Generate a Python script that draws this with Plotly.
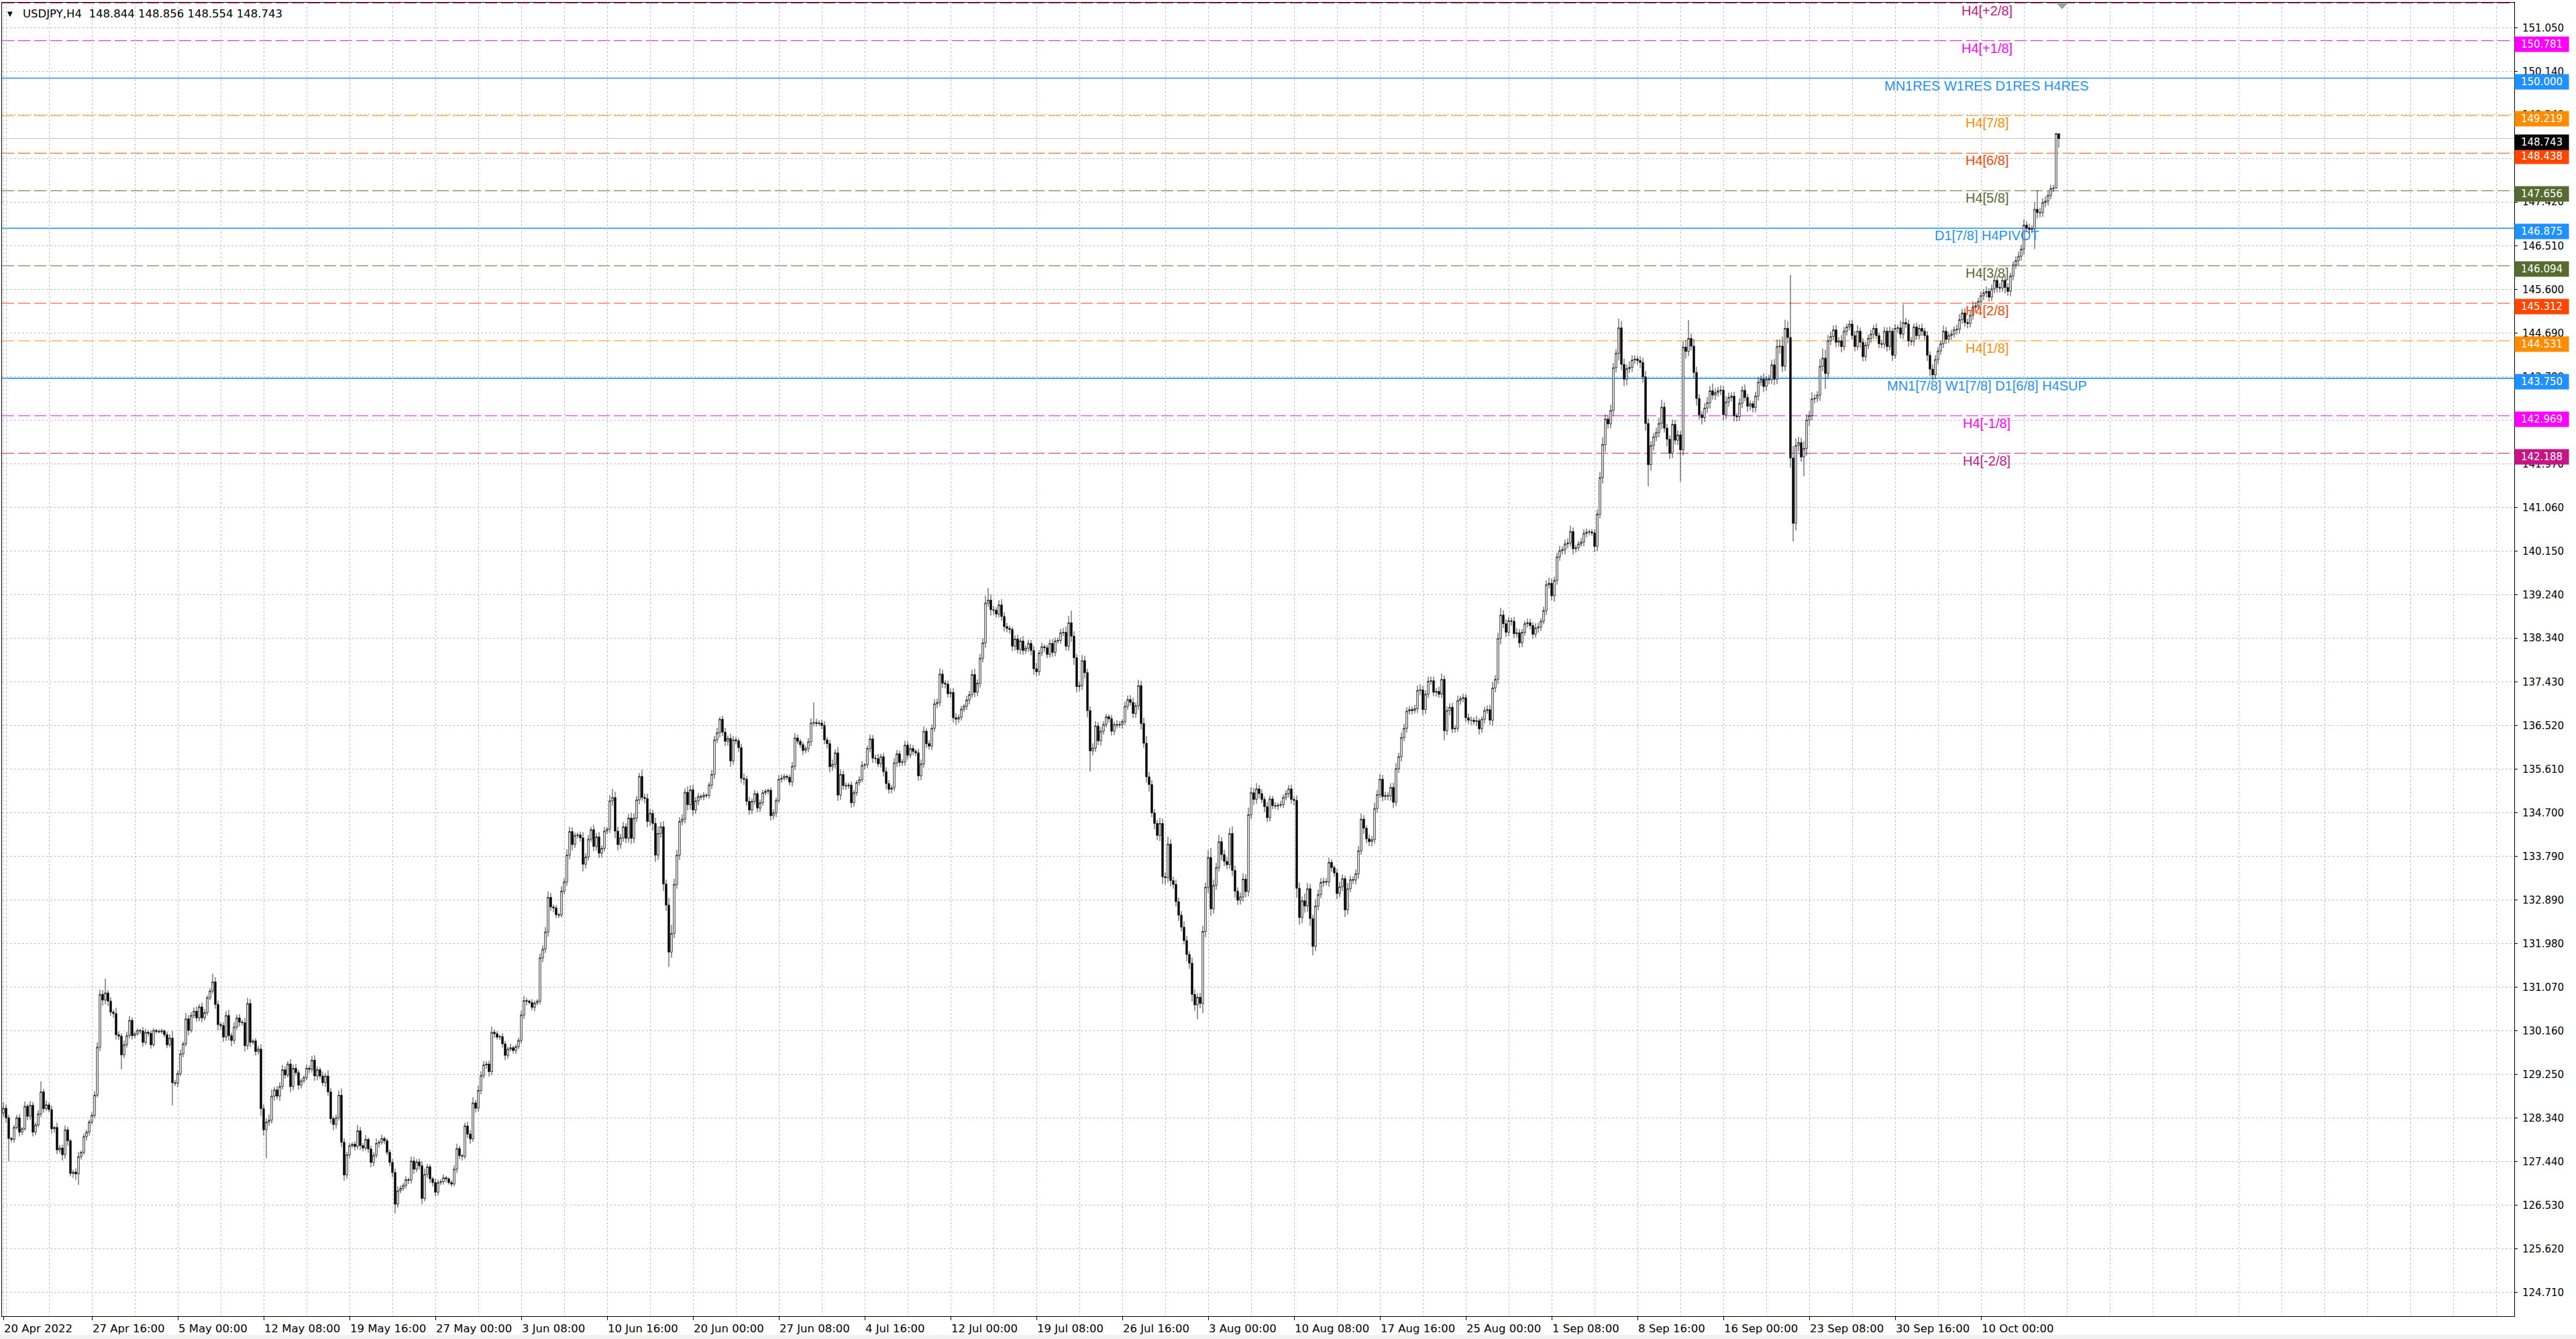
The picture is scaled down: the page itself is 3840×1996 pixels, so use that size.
import plotly.graph_objects as go

# ---------------- data (H4 bars, 20 Apr 2022 04:00 .. 14 Oct 2022 20:00) ----------------
first_open = 128.45

close = [
    128.55, 128.35, 127.92, 127.90, 128.15,          # Apr 20
    128.35, 128.05, 128.12, 128.59, 128.38, 128.61,  # Apr 21
    128.05, 128.20, 128.43, 128.89, 128.54, 128.62,  # Apr 22
    128.52, 128.12, 128.15, 127.68, 127.72, 127.58,  # Apr 25
    128.10, 127.87, 127.19, 127.22, 127.18, 127.54,  # Apr 26
    127.63, 127.96, 128.05, 128.26, 128.40, 128.82,  # Apr 27
    129.82, 130.92, 130.80, 130.95, 130.78, 130.55,  # Apr 28
    130.52, 130.08, 130.05, 129.66, 129.87, 130.06,  # Apr 29
    130.38, 130.06, 130.10, 130.17, 130.16, 129.92,  # May 2
    130.13, 130.11, 129.87, 130.17, 130.15, 130.14,  # May 3
    130.16, 130.08, 129.87, 130.01, 129.08, 129.07,  # May 4
    129.27, 129.68, 129.89, 130.41, 130.17, 130.48,  # May 5
    130.57, 130.43, 130.66, 130.43, 130.54, 130.85,  # May 6
    130.99, 131.18, 130.71, 130.29, 130.27, 130.03,  # May 9
    130.48, 130.06, 129.96, 130.24, 130.43, 130.34,  # May 10
    130.33, 129.85, 130.73, 129.92, 129.95, 129.73,  # May 11
    129.78, 128.54, 128.10, 128.26, 128.30, 128.80,  # May 12
    128.93, 128.80, 129.00, 129.35, 129.24, 129.47,  # May 13
    129.00, 129.38, 129.29, 129.03, 129.12, 129.19,  # May 16
    129.38, 129.36, 129.55, 129.22, 129.35, 129.22,  # May 17
    129.08, 129.22, 128.89, 128.33, 128.21, 128.35,  # May 18
    128.82, 127.84, 127.16, 127.58, 127.77, 127.80,  # May 19
    127.75, 128.08, 127.77, 127.72, 127.90, 127.70,  # May 20
    127.42, 127.57, 127.82, 127.84, 127.92, 127.87,  # May 23
    127.63, 127.42, 127.21, 126.55, 126.83, 126.88,  # May 24
    126.94, 127.06, 127.05, 127.45, 127.28, 127.43,  # May 25
    127.35, 126.67, 127.17, 127.33, 127.08, 127.00,  # May 26
    126.80, 127.00, 127.02, 127.10, 127.08, 127.00,  # May 27
    126.97, 127.28, 127.71, 127.56, 127.55, 128.18,  # May 30
    128.01, 127.91, 128.66, 128.55, 128.92, 129.23,  # May 31
    129.45, 129.47, 129.31, 130.13, 130.10, 130.03,  # Jun 1
    130.04, 129.89, 129.65, 129.78, 129.81, 129.75,  # Jun 2
    129.83, 129.96, 130.49, 130.79, 130.78, 130.75,  # Jun 3
    130.65, 130.74, 130.78, 131.68, 131.86, 132.22,  # Jun 6
    132.94, 132.74, 132.72, 132.58, 132.57, 133.07,  # Jun 7
    133.26, 133.82, 134.31, 134.04, 134.23, 134.24,  # Jun 8
    134.18, 133.63, 133.78, 134.15, 134.35, 134.00,  # Jun 9
    134.20, 133.86, 133.96, 134.32, 134.36, 134.95,  # Jun 10
    135.02, 134.32, 134.04, 134.18, 134.41, 134.17,  # Jun 13
    134.59, 134.17, 134.59, 134.97, 135.46, 135.02,  # Jun 14
    135.00, 134.52, 134.69, 134.48, 133.82, 134.27,  # Jun 15
    134.41, 133.22, 132.78, 131.80, 132.19, 133.21,  # Jun 16
    133.82, 134.52, 134.57, 135.13, 134.87, 135.18,  # Jun 17
    134.76, 134.95, 135.04, 135.03, 135.07, 135.06,  # Jun 20
    135.28, 135.50, 136.22, 136.37, 136.65, 136.38,  # Jun 21
    136.19, 136.25, 135.78, 136.22, 136.20, 136.06,  # Jun 22
    135.42, 135.40, 134.94, 134.76, 134.94, 135.10,  # Jun 23
    134.80, 134.91, 135.12, 135.15, 135.17, 134.64,  # Jun 24
    134.70, 134.96, 135.40, 135.42, 135.46, 135.44,  # Jun 27
    135.34, 135.67, 136.26, 136.19, 136.12, 136.00,  # Jun 28
    136.04, 136.18, 136.57, 136.58, 136.56, 136.57,  # Jun 29
    136.52, 136.22, 136.14, 135.66, 135.71, 135.95,  # Jun 30
    135.07, 135.50, 135.27, 135.26, 135.28, 134.91,  # Jul 1
    135.12, 135.33, 135.39, 135.69, 135.70, 136.04,  # Jul 4
    136.24, 135.84, 135.83, 135.72, 135.87, 135.56,  # Jul 5
    135.31, 135.19, 135.22, 135.74, 135.93, 135.75,  # Jul 6
    135.76, 136.11, 135.90, 136.04, 135.98, 135.95,  # Jul 7
    135.47, 135.72, 136.40, 136.14, 136.09, 136.46,  # Jul 8
    136.97, 137.00, 137.59, 137.40, 137.38, 137.18,  # Jul 11
    137.21, 136.68, 136.65, 136.69, 136.86, 136.92,  # Jul 12
    137.05, 137.16, 137.58, 137.21, 137.40, 137.92,  # Jul 13
    138.24, 139.07, 139.13, 138.93, 138.92, 138.84,  # Jul 14
    139.03, 138.79, 138.58, 138.54, 138.52, 138.17,  # Jul 15
    138.32, 138.10, 138.28, 138.08, 138.13, 138.23,  # Jul 18
    138.08, 137.70, 137.64, 138.03, 138.16, 138.14,  # Jul 19
    138.00, 138.23, 138.04, 138.28, 138.29, 138.45,  # Jul 20
    138.46, 138.17, 138.66, 138.38, 137.93, 137.33,  # Jul 21
    137.35, 137.87, 137.62, 136.83, 135.99, 136.05,  # Jul 22
    136.51, 136.20, 136.40, 136.54, 136.70, 136.66,  # Jul 25
    136.40, 136.54, 136.53, 136.54, 136.60, 136.92,  # Jul 26
    137.06, 137.00, 136.77, 136.93, 137.35, 136.56,  # Jul 27
    136.15, 135.45, 135.29, 134.70, 134.48, 134.23,  # Jul 28
    134.48, 133.37, 133.35, 134.05, 133.29, 133.21,  # Jul 29
    132.85, 132.57, 132.32, 132.04, 131.75, 131.57,  # Aug 1
    130.92, 130.70, 130.86, 130.73, 132.23, 133.15,  # Aug 2
    133.77, 132.70, 133.19, 133.56, 134.10, 133.83,  # Aug 3
    133.69, 133.62, 134.27, 133.50, 133.07, 132.88,  # Aug 4
    132.95, 133.32, 133.06, 134.66, 135.12, 134.98,  # Aug 5
    135.20, 135.10, 134.98, 134.83, 134.60, 134.99,  # Aug 8
    134.85, 134.84, 134.86, 134.87, 135.02, 135.10,  # Aug 9
    135.20, 134.98, 134.96, 133.13, 132.52, 132.87,  # Aug 10
    132.76, 133.12, 132.50, 131.92, 132.76, 133.00,  # Aug 11
    133.25, 133.27, 133.26, 133.67, 133.56, 133.45,  # Aug 12
    133.02, 133.16, 133.33, 132.68, 133.12, 133.31,  # Aug 15
    133.30, 133.43, 133.91, 134.57, 134.38, 134.16,  # Aug 16
    134.10, 134.14, 134.79, 135.08, 135.40, 135.04,  # Aug 17
    135.06, 135.05, 135.23, 134.92, 135.62, 135.87,  # Aug 18
    136.27, 136.46, 136.82, 136.85, 136.83, 136.87,  # Aug 19
    137.25, 137.26, 136.85, 137.17, 137.44, 137.45,  # Aug 22
    137.21, 137.23, 137.17, 137.48, 136.41, 136.83,  # Aug 23
    136.90, 136.45, 136.46, 137.04, 137.08, 137.10,  # Aug 24
    136.68, 136.63, 136.63, 136.60, 136.62, 136.45,  # Aug 25
    136.65, 136.83, 136.85, 136.63, 137.30, 137.48,  # Aug 26
    138.33, 138.82, 138.64, 138.46, 138.70, 138.69,  # Aug 29
    138.43, 138.45, 138.24, 138.46, 138.64, 138.66,  # Aug 30
    138.60, 138.42, 138.55, 138.57, 138.69, 138.91,  # Aug 31
    139.45, 139.48, 139.22, 139.54, 140.03, 140.16,  # Sep 1
    140.18, 140.30, 140.32, 140.56, 140.20, 140.22,  # Sep 2
    140.30, 140.34, 140.52, 140.55, 140.55, 140.53,  # Sep 5
    140.25, 140.92, 141.68, 142.37, 142.90, 142.80,  # Sep 6
    143.08, 143.97, 144.27, 144.80, 144.04, 143.73,  # Sep 7
    143.95, 143.98, 144.13, 144.15, 144.12, 144.08,  # Sep 8
    143.78, 142.81, 141.95, 142.35, 142.53, 142.62,  # Sep 9
    142.81, 143.15, 142.71, 142.48, 142.19, 142.79,  # Sep 12
    142.46, 142.57, 142.26, 144.40, 144.31, 144.58,  # Sep 13
    144.42, 143.87, 143.33, 142.99, 142.93, 143.13,  # Sep 14
    143.24, 143.49, 143.40, 143.45, 143.49, 143.50,  # Sep 15
    142.99, 143.26, 143.35, 143.38, 142.97, 142.95,  # Sep 16
    143.23, 143.50, 143.35, 143.17, 143.22, 143.14,  # Sep 19
    143.38, 143.67, 143.73, 143.58, 143.73, 143.72,  # Sep 20
    144.03, 143.73, 144.41, 144.42, 144.00, 144.79,  # Sep 21
    144.60, 142.09, 140.73, 142.35, 142.41, 142.11,  # Sep 22
    142.29, 142.88, 142.97, 143.32, 143.33, 143.40,  # Sep 23
    144.00, 144.17, 143.85, 144.53, 144.62, 144.76,  # Sep 26
    144.50, 144.53, 144.41, 144.73, 144.82, 144.88,  # Sep 27
    144.64, 144.41, 144.73, 144.50, 144.20, 144.44,  # Sep 28
    144.58, 144.67, 144.79, 144.64, 144.47, 144.46,  # Sep 29
    144.73, 144.41, 144.73, 144.23, 144.79, 144.80,  # Sep 30
    144.67, 144.91, 144.88, 144.53, 144.52, 144.82,  # Oct 3
    144.64, 144.79, 144.73, 144.64, 144.23, 143.94,  # Oct 4
    143.82, 144.14, 144.32, 144.47, 144.73, 144.56,  # Oct 5
    144.64, 144.67, 144.76, 144.77, 144.97, 145.11,  # Oct 6
    144.91, 144.89, 145.06, 145.23, 145.26, 145.35,  # Oct 7
    145.47, 145.53, 145.56, 145.44, 145.61, 145.79,  # Oct 10
    145.64, 145.63, 145.79, 145.64, 145.56, 145.88,  # Oct 11
    146.11, 146.20, 146.29, 146.44, 146.94, 146.88,  # Oct 12
    146.85, 146.86, 147.27, 147.20, 147.20, 147.41,  # Oct 13
    147.44, 147.56, 147.70, 147.71, 148.844, 148.743,  # Oct 14
]

# upper / lower wick lengths in pips (0.01 JPY)
upper_wick = [
    12, 8, 6, 3, 5,
    6, 8, 4, 10, 5, 9,
    7, 5, 8, 22, 6, 9,
    5, 8, 3, 10, 6, 7,
    9, 6, 4, 5, 8, 10,
    4, 6, 5, 5, 7, 8,
    10, 10, 9, 30, 6, 8,
    5, 12, 7, 6, 9, 8,
    9, 6, 5, 4, 3, 8,
    7, 4, 6, 5, 3, 4,
    5, 3, 6, 8, 15, 6,
    6, 9, 5, 12, 8, 7,
    8, 10, 6, 9, 7, 5,
    6, 17, 10, 8, 5, 7,
    9, 12, 6, 10, 7, 8,
    5, 10, 12, 9, 4, 6,
    7, 10, 9, 8, 12, 14,
    6, 8, 9, 10, 7, 6,
    10, 8, 9, 6, 5, 4,
    8, 6, 9, 10, 7, 5,
    9, 6, 12, 8, 5, 7,
    10, 14, 8, 6, 5, 4,
    6, 12, 8, 5, 9, 4,
    7, 6, 10, 5, 8, 4,
    5, 6, 7, 8, 9, 6,
    5, 7, 4, 9, 8, 6,
    7, 10, 12, 6, 5, 4,
    8, 6, 5, 7, 4, 3,
    5, 8, 10, 6, 4, 7,
    9, 8, 12, 6, 10, 9,
    8, 6, 7, 12, 6, 5,
    4, 7, 6, 5, 8, 4,
    5, 6, 9, 10, 6, 3,
    7, 5, 4, 9, 8, 10,
    12, 9, 5, 6, 4, 10,
    8, 12, 10, 9, 6, 5,
    7, 12, 8, 9, 6, 10,
    8, 10, 6, 9, 5, 12,
    18, 12, 9, 8, 10, 7,
    9, 11, 10, 8, 7, 14,
    8, 10, 9, 7, 12, 15,
    10, 12, 9, 15, 18, 12,
    11, 9, 10, 8, 12, 9,
    10, 8, 7, 5, 6, 4,
    6, 9, 8, 10, 5, 7,
    9, 6, 10, 8, 6, 5,
    8, 10, 7, 9, 6, 8,
    5, 7, 6, 5, 4, 6,
    7, 6, 9, 8, 5, 4,
    6, 9, 10, 7, 5, 6,
    5, 8, 10, 42, 8, 6,
    7, 9, 6, 8, 10, 7,
    12, 10, 8, 6, 5, 7,
    6, 5, 7, 9, 4, 6,
    9, 8, 7, 10, 6, 8,
    9, 7, 6, 10, 8, 7,
    6, 9, 8, 10, 7, 5,
    8, 9, 10, 6, 7, 8,
    10, 8, 12, 9, 6, 7,
    8, 9, 10, 6, 7, 5,
    9, 8, 10, 12, 8, 9,
    10, 15, 25, 12, 8, 6,
    10, 12, 9, 8, 6, 5,
    8, 9, 7, 10, 6, 8,
    7, 10, 12, 6, 8, 5,
    6, 8, 9, 7, 6, 8,
    9, 12, 14, 25, 10, 8,
    9, 12, 10, 8, 9, 10,
    10, 8, 9, 7, 6, 5,
    8, 6, 9, 7, 5, 10,
    8, 9, 10, 7, 12, 10,
    12, 15, 10, 9, 8, 7,
    12, 10, 9, 15, 10, 8,
    10, 9, 8, 12, 10, 7,
    12, 10, 8, 9, 12, 10,
    15, 20, 12, 10, 14, 9,
    10, 9, 12, 15, 10, 8,
    9, 12, 10, 15, 12, 10,
    12, 8, 9, 6, 10, 7,
    6, 7, 5, 8, 6, 7,
    8, 9, 6, 10, 12, 9,
    15, 12, 10, 8, 14, 10,
    9, 8, 7, 10, 6, 5,
    8, 10, 9, 6, 12, 8,
    7, 9, 10, 12, 8, 6,
    9, 8, 12, 10, 11, 9,
    8, 7, 9, 10, 12, 8,
    10, 9, 8, 7, 6, 8,
    10, 12, 9, 8, 10, 9,
    9, 7, 10, 12, 8, 9,
    8, 9, 7, 10, 6, 8,
    7, 9, 8, 6, 10, 5,
    6, 8, 9, 10, 12, 9,
    12, 15, 10, 9, 8, 7,
    9, 10, 8, 7, 6, 9,
    8, 7, 10, 9, 6, 8,
    9, 12, 10, 8, 9, 10,
    7, 9, 10, 12, 8, 6,
    6, 8, 9, 7, 5, 6,
    8, 10, 12, 15, 10, 9,
    12, 10, 9, 19, 14, 12,
    9, 12, 10, 8, 7, 9,
    10, 12, 11, 9, 8, 10,
    12, 15, 10, 9, 8, 10,
    9, 10, 8, 12, 15, 38,
    10, 15, 12, 9, 8, 10,
    12, 10, 15, 9, 8, 10,
    9, 12, 10, 8, 9, 6,
    10, 9, 12, 8, 7, 6,
    9, 10, 8, 12, 7, 9,
    10, 12, 15, 14, 20, 18,
    15, 130, 25, 15, 12, 10,
    15, 12, 10, 14, 9, 8,
    15, 20, 18, 12, 10, 9,
    10, 8, 12, 9, 7, 8,
    9, 10, 12, 8, 9, 7,
    8, 9, 7, 10, 6, 8,
    9, 8, 10, 7, 9, 6,
    15, 38, 10, 9, 8, 7,
    9, 8, 10, 7, 9, 8,
    10, 9, 8, 7, 12, 9,
    8, 9, 7, 10, 12, 9,
    10, 8, 9, 12, 8, 7,
    9, 8, 10, 7, 9, 8,
    10, 9, 8, 12, 9, 7,
    8, 9, 10, 9, 12, 8,
    9, 8, 15, 40, 10, 9,
    10, 9, 8, 7, 2, 1,
]

lower_wick = [
    8, 10, 48, 6, 7,
    5, 9, 6, 4, 8, 7,
    9, 6, 5, 7, 8, 5,
    6, 10, 8, 9, 7, 12,
    8, 10, 6, 9, 12, 23,
    6, 5, 8, 7, 5, 6,
    5, 8, 12, 9, 10, 8,
    9, 10, 8, 30, 7, 6,
    6, 8, 5, 4, 7, 9,
    5, 6, 8, 4, 5, 3,
    4, 6, 7, 5, 47, 6,
    8, 5, 7, 6, 10, 5,
    6, 8, 7, 9, 5, 6,
    5, 6, 9, 12, 8, 10,
    8, 10, 12, 7, 6, 9,
    6, 12, 8, 10, 5, 8,
    6, 15, 12, 59, 8, 7,
    9, 7, 10, 6, 8, 5,
    12, 8, 6, 9, 7, 5,
    6, 8, 7, 10, 9, 6,
    7, 9, 8, 10, 12, 9,
    6, 10, 12, 8, 7, 5,
    8, 6, 9, 7, 5, 8,
    10, 8, 6, 9, 5, 7,
    6, 8, 10, 19, 7, 5,
    5, 6, 8, 7, 10, 6,
    8, 12, 6, 7, 9, 8,
    9, 7, 5, 6, 8, 4,
    6, 5, 8, 7, 9, 6,
    8, 10, 6, 9, 7, 8,
    6, 8, 10, 7, 9, 5,
    6, 8, 10, 7, 5, 6,
    7, 5, 6, 8, 9, 4,
    6, 8, 5, 7, 9, 8,
    10, 8, 9, 7, 6, 5,
    6, 8, 9, 12, 7, 6,
    8, 15, 9, 7, 6, 10,
    8, 10, 9, 6, 7, 8,
    10, 15, 12, 9, 8, 10,
    9, 12, 10, 8, 9, 7,
    10, 12, 9, 15, 14, 10,
    9, 15, 12, 31, 12, 10,
    9, 10, 8, 9, 12, 10,
    12, 8, 9, 6, 7, 5,
    6, 8, 9, 7, 10, 8,
    10, 9, 12, 8, 7, 9,
    10, 12, 9, 10, 8, 7,
    9, 8, 6, 5, 7, 10,
    8, 9, 6, 7, 5, 6,
    7, 9, 8, 6, 7, 9,
    6, 8, 9, 7, 6, 5,
    8, 9, 10, 12, 8, 9,
    12, 10, 9, 8, 6, 10,
    8, 7, 6, 5, 9, 7,
    8, 10, 9, 7, 8, 10,
    12, 9, 8, 7, 9, 8,
    7, 8, 9, 6, 8, 7,
    10, 9, 8, 9, 7, 8,
    7, 9, 8, 10, 9, 8,
    9, 10, 12, 8, 7, 6,
    8, 9, 7, 10, 8, 9,
    9, 10, 8, 12, 9, 8,
    7, 9, 10, 8, 9, 10,
    9, 8, 10, 9, 7, 8,
    10, 12, 9, 8, 7, 9,
    8, 7, 9, 8, 6, 7,
    7, 9, 10, 12, 15, 12,
    10, 9, 12, 14, 43, 9,
    8, 9, 10, 7, 6, 8,
    9, 8, 7, 6, 8, 7,
    8, 7, 10, 9, 8, 12,
    10, 12, 15, 9, 12, 10,
    12, 15, 14, 10, 12, 9,
    10, 12, 9, 8, 14, 12,
    15, 12, 30, 10, 20, 12,
    12, 15, 10, 9, 8, 12,
    10, 9, 8, 12, 14, 10,
    9, 10, 12, 10, 9, 12,
    9, 10, 8, 12, 9, 8,
    7, 6, 8, 5, 7, 6,
    8, 9, 10, 20, 15, 12,
    14, 12, 15, 19, 10, 9,
    8, 9, 7, 10, 9, 8,
    12, 8, 9, 15, 10, 7,
    8, 9, 10, 8, 12, 9,
    9, 10, 8, 9, 7, 10,
    8, 9, 10, 12, 8, 9,
    10, 8, 9, 7, 8, 6,
    9, 10, 12, 9, 8, 7,
    8, 9, 7, 8, 20, 9,
    10, 9, 8, 7, 9, 8,
    9, 8, 10, 7, 9, 12,
    8, 9, 7, 10, 12, 9,
    10, 12, 9, 10, 8, 9,
    9, 8, 10, 9, 7, 8,
    8, 9, 7, 10, 8, 6,
    9, 8, 10, 12, 9, 8,
    8, 10, 9, 7, 12, 8,
    7, 6, 9, 8, 7, 6,
    12, 10, 9, 12, 15, 10,
    9, 12, 10, 15, 12, 14,
    12, 9, 10, 8, 9, 12,
    12, 15, 45, 12, 10, 9,
    10, 12, 9, 15, 12, 10,
    9, 10, 66, 12, 15, 10,
    9, 12, 15, 10, 14, 9,
    10, 12, 9, 10, 8, 9,
    12, 9, 10, 8, 12, 10,
    9, 10, 8, 12, 9, 10,
    10, 9, 8, 12, 9, 10,
    9, 12, 10, 15, 12, 10,
    12, 20, 38, 15, 12, 10,
    40, 15, 12, 10, 9, 8,
    12, 10, 32, 10, 9, 8,
    10, 9, 12, 8, 9, 7,
    9, 10, 8, 12, 10, 9,
    8, 9, 10, 7, 9, 8,
    9, 10, 8, 12, 7, 9,
    9, 10, 8, 12, 9, 10,
    9, 8, 10, 9, 12, 15,
    12, 9, 10, 8, 9, 10,
    8, 9, 7, 10, 9, 8,
    9, 10, 8, 9, 10, 8,
    8, 9, 10, 9, 8, 9,
    10, 9, 8, 12, 9, 10,
    9, 8, 10, 9, 12, 8,
    9, 8, 42, 12, 10, 9,
    10, 9, 8, 7, 1, 19,
]

time_tick_idx = [0, 33, 65, 97, 129, 161, 193, 225, 257, 289, 321, 353,
                 385, 417, 449, 481, 513, 545, 577, 609, 641, 673, 705, 737]
time_tick_text = ["20 Apr 2022", "27 Apr 16:00", "5 May 00:00", "12 May 08:00",
                  "19 May 16:00", "27 May 00:00", "3 Jun 08:00", "10 Jun 16:00",
                  "20 Jun 00:00", "27 Jun 08:00", "4 Jul 16:00", "12 Jul 00:00",
                  "19 Jul 08:00", "26 Jul 16:00", "3 Aug 00:00", "10 Aug 08:00",
                  "17 Aug 16:00", "25 Aug 00:00", "1 Sep 08:00", "8 Sep 16:00",
                  "16 Sep 00:00", "23 Sep 08:00", "30 Sep 16:00", "10 Oct 00:00"]

price_ticks = [151.050, 150.140, 149.240, 148.330, 147.420, 146.510, 145.600,
               144.690, 143.780, 142.880, 141.970, 141.060, 140.150, 139.240,
               138.340, 137.430, 136.520, 135.610, 134.700, 133.790, 132.890,
               131.980, 131.070, 130.160, 129.250, 128.340, 127.440, 126.530,
               125.620, 124.710]

level_price = [151.5625, 150.781, 150.000, 149.219, 148.438, 147.656, 146.875,
               146.094, 145.312, 144.531, 143.750, 142.969, 142.188]
level_name = ["H4[+2/8]", "H4[+1/8]", "MN1RES W1RES D1RES H4RES", "H4[7/8]",
              "H4[6/8]", "H4[5/8]", "D1[7/8] H4PIVOT", "H4[3/8]", "H4[2/8]",
              "H4[1/8]", "MN1[7/8] W1[7/8] D1[6/8] H4SUP", "H4[-1/8]", "H4[-2/8]"]
level_color = ["#C71585", "#FF00FF", "#1E90FF", "#FF8C00", "#FF4500", "#556B2F",
               "#1E90FF", "#556B2F", "#FF4500", "#FF8C00", "#1E90FF", "#FF00FF",
               "#C71585"]
level_solid = [False, False, True, False, False, False, True, False, False,
               False, True, False, False]

current_price = 148.743
title_text = "USDJPY,H4\u00a0\u00a0148.844 148.856 148.554 148.743"

# ---------------- derived OHLC ----------------
n = len(close)
opens = [first_open] + close[:-1]
highs = [max(o, c) + u / 100.0 for o, c, u in zip(opens, close, upper_wick)]
lows = [min(o, c) - d / 100.0 for o, c, d in zip(opens, close, lower_wick)]
xs = list(range(n))

FONT = "DejaVu Sans"
LABEL_FONT = "Liberation Sans"
GRID = "#C0C0C0"

fig = go.Figure()
fig.add_trace(go.Candlestick(
    x=xs, open=opens, high=highs, low=lows, close=close,
    increasing=dict(line=dict(color="black", width=0.8), fillcolor="white"),
    decreasing=dict(line=dict(color="black", width=0.8), fillcolor="black"),
    whiskerwidth=0, hoverinfo="skip", showlegend=False,
))

shapes = []
annotations = []

# level lines + labels
for p, name, col, solid in zip(level_price, level_name, level_color, level_solid):
    shapes.append(dict(type="line", xref="paper", yref="y", x0=0, x1=1, y0=p, y1=p,
                       line=dict(color=col, width=1.6 if solid else 1,
                                 dash="solid" if solid else "18px,6px"),
                       layer="below"))
    annotations.append(dict(xref="paper", yref="y", x=0.7901, y=p, yshift=-11,
                            text=name, showarrow=False, xanchor="center", yanchor="middle",
                            font=dict(family=LABEL_FONT, size=20, color=col)))
    if p < 151.5:
        annotations.append(dict(xref="paper", yref="y", x=1.0, y=p, yshift=-5,
                                text=f"{p:.3f}", showarrow=False, xanchor="left",
                                yanchor="middle", bgcolor=col, width=78, height=20,
                                borderpad=1, align="center",
                                font=dict(family=FONT, size=15, color="white")))

# current price line + label
shapes.append(dict(type="line", xref="paper", yref="y", x0=0, x1=1,
                   y0=current_price, y1=current_price,
                   line=dict(color="#C0C0C0", width=1), layer="below"))
annotations.append(dict(xref="paper", yref="y", x=1.0, y=current_price, yshift=-5,
                        text=f"{current_price:.3f}", showarrow=False, xanchor="left",
                        yanchor="middle", bgcolor="black", width=78, height=20,
                        borderpad=1, align="center",
                        font=dict(family=FONT, size=15, color="white")))

# chart shift marker
shapes.append(dict(type="path", xref="x", yref="paper",
                   path="M 765,1 L 769.5,1 L 767.25,0.995 Z",
                   fillcolor="#A0A0A0", line=dict(width=0)))

# window bottom strip
shapes.append(dict(type="rect", xref="paper", yref="paper", x0=-0.001, x1=1.03,
                   y0=-0.0176, y1=-0.0143, fillcolor="#F0F0F0",
                   line=dict(width=0)))

# title
annotations.append(dict(xref="paper", yref="paper", x=0.0031, y=0.9918, text="\u25BC",
                        showarrow=False, xanchor="center", yanchor="middle",
                        font=dict(family=FONT, size=10, color="black")))
annotations.append(dict(xref="paper", yref="paper", x=0.0077, y=0.9918, text=title_text,
                        showarrow=False, xanchor="left", yanchor="middle",
                        font=dict(family=FONT, size=16.5, color="black")))

fig.update_layout(
    width=3840, height=1996,
    margin=dict(l=3, r=92, t=4, b=34, pad=0),
    paper_bgcolor="white", plot_bgcolor="white",
    showlegend=False, hovermode=False,
    boxgap=0.3, boxgroupgap=0.1,
    font=dict(family=FONT, size=15, color="black"),
    shapes=shapes, annotations=annotations,
    xaxis=dict(
        type="linear", range=[-0.5, 935.75], rangeslider=dict(visible=False),
        tickmode="array", tickvals=time_tick_idx, ticktext=time_tick_text,
        ticks="outside", ticklen=5, tickcolor="black",
        ticklabelposition="outside right", ticklabelstandoff=3,
        showgrid=True, gridcolor=GRID, griddash="3px,3px", gridwidth=1,
        minor=dict(tick0=1, dtick=16, showgrid=True, gridcolor=GRID,
                   griddash="3px,3px", gridwidth=1, ticks=""),
        showline=True, linecolor="black", linewidth=1, mirror=True,
        zeroline=False, fixedrange=True,
        tickfont=dict(family=FONT, size=16.5, color="black"),
    ),
    yaxis=dict(
        side="right", range=[124.218, 151.572],
        tickmode="array", tickvals=price_ticks,
        ticktext=[f"{v:.3f}" for v in price_ticks],
        ticks="outside", ticklen=4, tickcolor="black", ticklabelstandoff=4,
        showgrid=True, gridcolor=GRID, griddash="3px,3px", gridwidth=1,
        showline=True, linecolor="black", linewidth=1, mirror=True,
        zeroline=False, fixedrange=True,
        tickfont=dict(family=FONT, size=15, color="black"),
    ),
)

fig.write_html("out.html", config={"displayModeBar": False},
               post_script="document.body.style.margin='0';document.body.style.overflow='hidden';")
